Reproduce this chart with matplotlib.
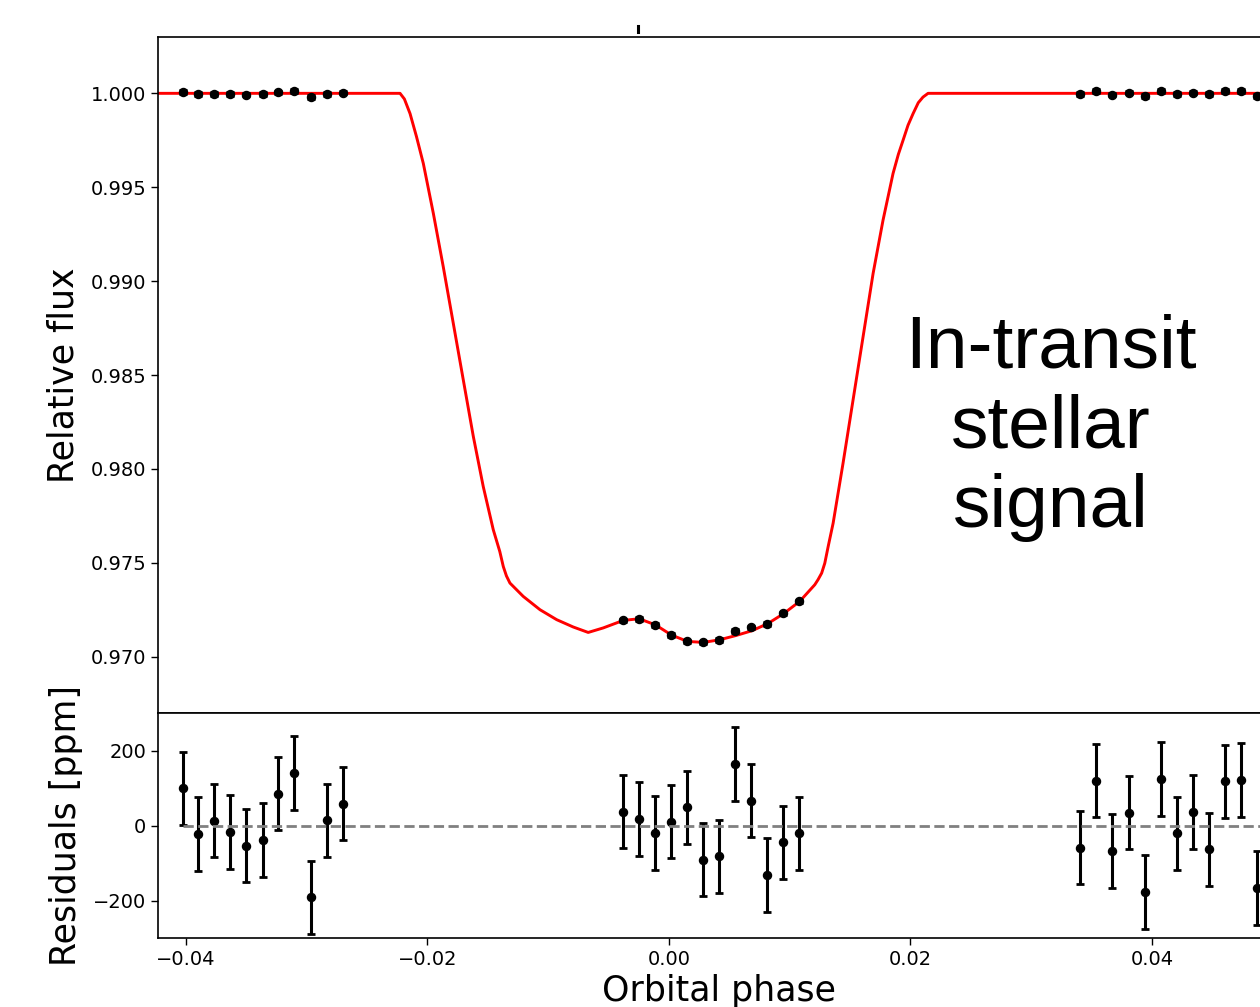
import matplotlib
matplotlib.use("Agg")
import matplotlib.pyplot as plt
from matplotlib.lines import Line2D
from matplotlib.ticker import MultipleLocator, FormatStrFormatter

# out-of-transit, left side
phase_pre = [-0.04027, -0.03895, -0.03763, -0.03630, -0.03498, -0.03362,
             -0.03233, -0.03101, -0.02965, -0.02832, -0.02700]
flux_pre = [1.00007, 0.99995, 0.99998, 0.99996, 0.99993, 0.99995,
            1.00005, 1.00011, 0.99980, 0.99998, 1.00004]
resid_pre = [98.8, -23.0, 13.2, -16.8, -53.8, -38.9, 84.8, 139.6, -191.5, 14.0, 58.3]

# in transit
phase_in = [-0.00378, -0.00246, -0.00114, 0.00019, 0.00151, 0.00284,
            0.00416, 0.00548, 0.00681, 0.00813, 0.00945, 0.01078]
flux_in = [0.97193, 0.97202, 0.97169, 0.97115, 0.97081, 0.97076,
           0.97090, 0.97138, 0.97156, 0.97174, 0.97230, 0.97294]
resid_in = [37.1, 16.8, -20.3, 10.6, 48.6, -90.9, -82.1, 163.4, 66.2, -132.5, -45.0, -21.2]

# out-of-transit, right side
phase_post = [0.03407, 0.03539, 0.03672, 0.03807, 0.03939, 0.04071,
              0.04204, 0.04336, 0.04471, 0.04603, 0.04736, 0.04868]
flux_post = [0.99995, 1.00012, 0.99993, 1.00004, 0.99984, 1.00012,
             0.99998, 1.00004, 0.99995, 1.00012, 1.00012, 0.99984]
resid_post = [-59.1, 120.0, -68.1, 34.4, -177.5, 123.7, -21.2, 36.3, -63.6, 117.4, 121.1, -166.1]

ERR_PPM = 98

# fitted transit model
model_phase = [-0.0430, -0.02226, -0.02190, -0.02143, -0.02090, -0.02033, -0.01950,
               -0.01868, -0.01785, -0.01702, -0.01619, -0.01537, -0.01454, -0.01400,
               -0.01371, -0.01345, -0.01316, -0.01206, -0.01067, -0.00929, -0.00792,
               -0.00668, -0.00544, -0.00378, -0.00246, -0.00110, 0.00022, 0.00155,
               0.00287, 0.00420, 0.00552, 0.00687, 0.00819, 0.00952, 0.01084,
               0.01208, 0.01235, 0.01265, 0.01291, 0.01320, 0.01360, 0.01442,
               0.01525, 0.01608, 0.01691, 0.01773, 0.01856, 0.01900, 0.01939,
               0.01980, 0.02022, 0.02065, 0.02104, 0.02146, 0.0510]
model_flux = [1.0, 1.0, 0.99970, 0.99892, 0.99770, 0.99626, 0.99360,
              0.99076, 0.98775, 0.98473, 0.98172, 0.97906, 0.97676, 0.97560,
              0.97480, 0.97430, 0.97392, 0.97321, 0.97250, 0.97197, 0.97158,
              0.97129, 0.97153, 0.97193, 0.97202, 0.97169, 0.97115, 0.97081,
              0.97076, 0.97090, 0.97112, 0.97138, 0.97176, 0.97230, 0.97295,
              0.97383, 0.97410, 0.97445, 0.97498, 0.97590, 0.97711, 0.98030,
              0.98367, 0.98704, 0.99041, 0.99324, 0.99573, 0.99675, 0.99750,
              0.99830, 0.99892, 0.99950, 0.99980, 1.0, 1.0]

W, H = 1260, 1007
fig = plt.figure(figsize=(W / 100, H / 100), dpi=100)
fig.patch.set_facecolor("white")

# the axes run past the right edge of the figure, as in the original crop
ax1 = fig.add_axes([158 / W, 294 / H, (1280 - 158) / W, (713 - 37) / H])
ax2 = fig.add_axes([158 / W, 69 / H, (1280 - 158) / W, (938 - 713) / H], sharex=ax1)

ebar = dict(fmt="o", color="black", ms=5.8, elinewidth=2.2, capsize=2.8, capthick=2)

ax1.plot(model_phase, model_flux, color="red", lw=2.1, zorder=1)
for ph, fl in ((phase_pre, flux_pre), (phase_in, flux_in), (phase_post, flux_post)):
    ax1.errorbar(ph, fl, yerr=ERR_PPM * 1e-6, zorder=2, **ebar)

for ph, rs in ((phase_pre, resid_pre), (phase_in, resid_in), (phase_post, resid_post)):
    ax2.errorbar(ph, rs, yerr=ERR_PPM, zorder=2, **ebar)
ax2.plot([phase_pre[0], phase_post[-1] + 0.005], [0, 0], ls="--", color="gray",
         lw=2, zorder=3)

ax1.set_xlim(-0.0423, 0.0506)
ax1.set_ylim(0.967, 1.003)
ax2.set_ylim(-300, 300)

ax1.yaxis.set_major_locator(MultipleLocator(0.005))
ax1.yaxis.set_major_formatter(FormatStrFormatter("%.3f"))
ax2.yaxis.set_major_locator(MultipleLocator(200))
ax2.xaxis.set_major_locator(MultipleLocator(0.02))
ax1.tick_params(labelbottom=False)

for ax in (ax1, ax2):
    ax.tick_params(labelsize=14, length=5, width=1, direction="out")
    for sp in ax.spines.values():
        sp.set_linewidth(1.2)

ax1.set_ylabel("Relative flux", fontsize=25, labelpad=7)
ax2.set_ylabel("Residuals [ppm]", fontsize=25, labelpad=7)
ax2.set_xlabel("Orbital phase", fontsize=25)
fig.align_ylabels([ax1, ax2])

ax1.text(0.0316, 0.9822, "In-transit\nstellar\nsignal", family="Liberation Sans",
         fontsize=54, ha="center", va="center", multialignment="center")

# small stray mark above the top frame in the original
fig.add_artist(Line2D([638 / W, 638 / W], [(H - 26) / H, (H - 32) / H],
                      color="black", lw=2.2))

fig.savefig("out.png", dpi=100, facecolor="white")
plt.close(fig)
